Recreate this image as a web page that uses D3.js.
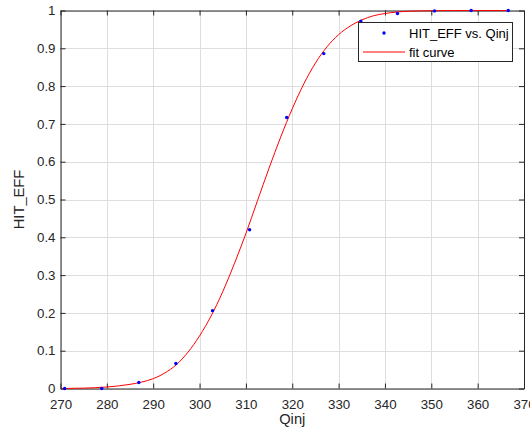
<!DOCTYPE html>
<html><head><meta charset="utf-8">
<script src="https://cdn.jsdelivr.net/npm/d3@7"></script>
<style>
html,body{margin:0;padding:0;background:#fff;}
text{font-family:"Liberation Sans",Arial,sans-serif;}
</style></head>
<body>
<svg id="chart" width="530" height="434"></svg>
<script>
// Data points
const qinj = [270.9, 278.9, 286.9, 294.9, 302.8, 310.8, 318.8, 326.8, 334.8, 342.7, 350.7, 358.6, 366.6];
const hitEff = [0.000, 0.000, 0.016, 0.066, 0.206, 0.420, 0.717, 0.886, 0.972, 0.992, 0.999, 1.000, 1.000];
// Fit curve
const fitX = [270.2, 275, 280, 285, 287.5, 290, 292.5, 295, 297.5, 300, 302.5, 305, 307.5, 310, 312.5, 315, 317.5, 320, 322.5, 325, 327.5, 330, 332.5, 335, 337.5, 340, 345, 350, 355, 360, 366.6];
const fitY = [0.000, 0.001, 0.004, 0.011, 0.017, 0.026, 0.041, 0.063, 0.096, 0.139, 0.192, 0.256, 0.330, 0.410, 0.497, 0.583, 0.665, 0.740, 0.806, 0.861, 0.904, 0.936, 0.959, 0.975, 0.986, 0.992, 0.998, 0.9995, 1.000, 1.000, 1.000];
const xTicks = [270, 280, 290, 300, 310, 320, 330, 340, 350, 360, 370];
const yTicks = [0, 0.1, 0.2, 0.3, 0.4, 0.5, 0.6, 0.7, 0.8, 0.9, 1];
const legendLabels = ["HIT_EFF vs. Qinj", "fit curve"];

const L = 60.5, R = 524, T = 10.5, B = 388.5;
const svg = d3.select("#chart");
const x = d3.scaleLinear().domain([270, 370]).range([L, R]);
const y = d3.scaleLinear().domain([0, 1]).range([B, T]);
const axisCol = "#262626";

// grid
const g = svg.append("g");
g.selectAll(".gx").data(xTicks).enter().append("line")
  .attr("x1", d => Math.round(x(d)) + 0.5).attr("x2", d => Math.round(x(d)) + 0.5)
  .attr("y1", T).attr("y2", B).attr("stroke", "#dedede").attr("stroke-width", 1);
g.selectAll(".gy").data(yTicks).enter().append("line")
  .attr("y1", d => Math.round(y(d)) + 0.5).attr("y2", d => Math.round(y(d)) + 0.5)
  .attr("x1", L).attr("x2", R).attr("stroke", "#dedede").attr("stroke-width", 1);

// axes
const fmtY = d => d3.format("~g")(d);
const xAxisB = d3.axisBottom(x).tickValues(xTicks).tickSizeInner(-5).tickSizeOuter(0).tickPadding(11);
const xAxisT = d3.axisTop(x).tickValues(xTicks).tickSizeInner(-5).tickSizeOuter(0).tickFormat("");
const yAxisL = d3.axisLeft(y).tickValues(yTicks).tickSizeInner(-5).tickSizeOuter(0).tickPadding(5).tickFormat(fmtY);
const yAxisR = d3.axisRight(y).tickValues(yTicks).tickSizeInner(-5).tickSizeOuter(0).tickFormat("");

function style(sel) {
  sel.select(".domain").attr("stroke", axisCol);
  sel.selectAll(".tick line").attr("stroke", axisCol);
  sel.selectAll(".tick text").attr("fill", axisCol).style("font-size", "13.3px").style("font-family", "'Liberation Sans', Arial, sans-serif");
}
svg.append("g").attr("transform", `translate(0,${B})`).call(xAxisB).call(style);
svg.append("g").attr("transform", `translate(0,${T})`).call(xAxisT).call(style);
svg.append("g").attr("transform", `translate(${L},0)`).call(yAxisL).call(style);
svg.append("g").attr("transform", `translate(${R},0)`).call(yAxisR).call(style);

// fit curve
const fitData = fitX.map((v, i) => [v, fitY[i]]);
svg.append("path").datum(fitData)
  .attr("d", d3.line().x(d => x(d[0])).y(d => y(d[1])).curve(d3.curveMonotoneX))
  .attr("fill", "none").attr("stroke", "#ff0000").attr("stroke-width", 1);

// points
svg.selectAll(".pt").data(qinj.map((v, i) => [v, hitEff[i]])).enter().append("circle")
  .attr("cx", d => x(d[0])).attr("cy", d => y(d[1])).attr("r", 1.7).attr("fill", "#0000ff");

// labels
svg.append("text").attr("x", (L + R) / 2).attr("y", 424).attr("text-anchor", "middle")
  .attr("fill", axisCol).style("font-size", "14.7px").text("Qinj");
svg.append("text").attr("transform", `translate(24,${(T + B) / 2}) rotate(-90)`).attr("text-anchor", "middle")
  .attr("fill", axisCol).style("font-size", "14.7px").text("HIT_EFF");

// legend
const lg = svg.append("g");
lg.append("rect").attr("x", 358.5).attr("y", 22.5).attr("width", 154).attr("height", 39)
  .attr("fill", "#fff").attr("stroke", axisCol).attr("stroke-width", 1);
lg.append("circle").attr("cx", 384).attr("cy", 33).attr("r", 1.7).attr("fill", "#0000ff");
lg.append("line").attr("x1", 363).attr("x2", 405).attr("y1", 52).attr("y2", 52).attr("stroke", "#ff0000").attr("stroke-width", 1);
lg.selectAll(".lt").data(legendLabels).enter().append("text")
  .attr("x", 409).attr("y", (d, i) => 38 + i * 19).attr("fill", "#000").style("font-size", "13px").text(d => d);
</script>
</body></html>
